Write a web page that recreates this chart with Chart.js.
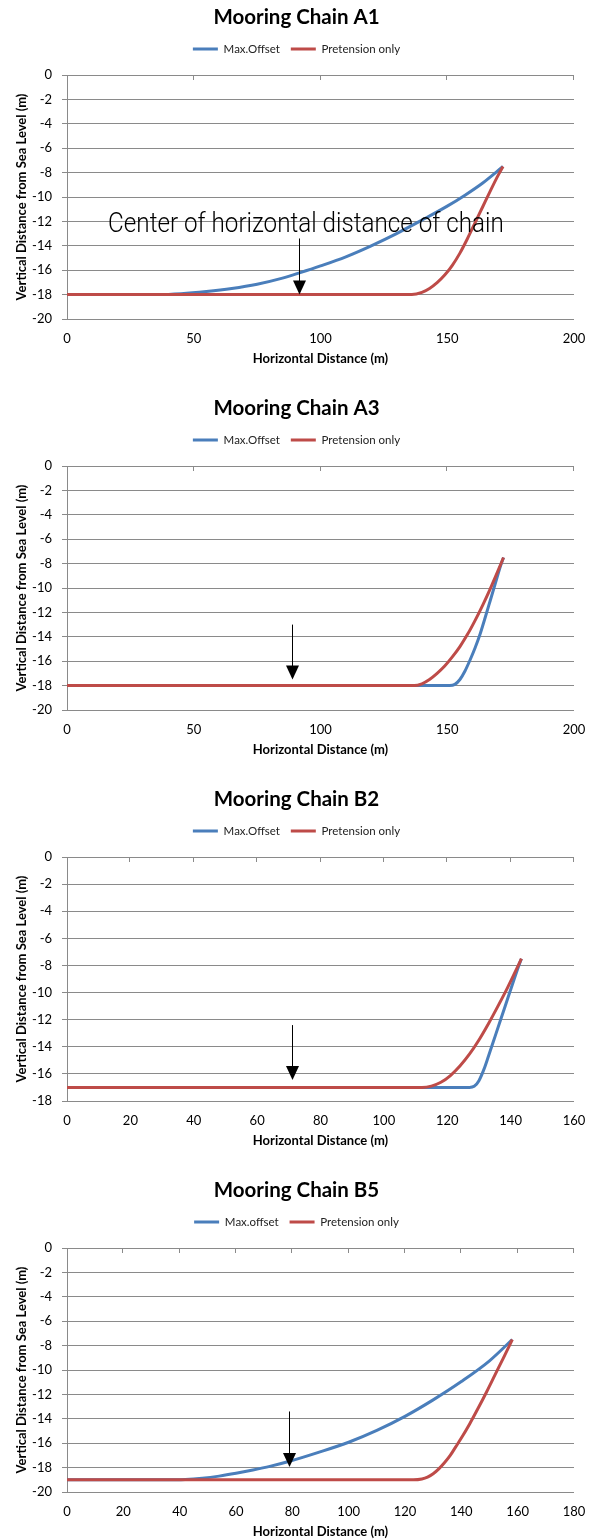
<!DOCTYPE html>
<html>
<head>
<meta charset="utf-8">
<script src="https://cdn.jsdelivr.net/npm/chart.js@4.4.1/dist/chart.umd.min.js"></script>
<style>
html, body { margin: 0; padding: 0; overflow: hidden; background: #fff; }
.box { position: absolute; left: 0; width: 593px; height: 391px; }
</style>
</head>
<body>
<div class="box" style="top:0px"><canvas id="c1" width="593" height="391"></canvas></div>
<div class="box" style="top:391px"><canvas id="c2" width="593" height="391"></canvas></div>
<div class="box" style="top:782px"><canvas id="c3" width="593" height="391"></canvas></div>
<div class="box" style="top:1173px"><canvas id="c4" width="593" height="391"></canvas></div>
<script>
// chart titles and legend labels
const titles = ['Mooring Chain A1', 'Mooring Chain A3', 'Mooring Chain B2', 'Mooring Chain B5'];
const blueLabels = ['Max.Offset', 'Max.Offset', 'Max.Offset', 'Max.offset'];
const redLabel = 'Pretension only';

// axis ranges
const xMaxes = [200, 200, 160, 180];
const xSteps = [50, 50, 20, 20];
const yMins = [-20, -20, -18, -20];

// A1
const a1BlueX = [0, 36, 45, 55, 65, 75, 85, 92, 100, 110, 120, 130, 140, 150, 157, 164, 172];
const a1BlueY = [-18, -18, -17.93, -17.75, -17.5, -17.15, -16.65, -16.2, -15.65, -14.9, -14.0, -13.0, -11.9, -10.75, -9.85, -8.85, -7.5];
const a1RedX = [0, 136, 140, 143, 146, 149, 152, 155, 158, 161, 164, 167, 170, 172];
const a1RedY = [-18, -18, -17.82, -17.5, -17.02, -16.4, -15.6, -14.6, -13.4, -12.1, -10.8, -9.5, -8.25, -7.5];

// A3
const a3BlueX = [0, 151, 153, 155, 157, 159, 161, 163, 165, 167, 169, 171, 172.2];
const a3BlueY = [-18, -18, -17.9, -17.5, -16.8, -15.9, -14.9, -13.75, -12.4, -11.0, -9.6, -8.2, -7.5];
const a3RedX = [0, 137, 140, 143, 146, 149, 152, 155, 158, 161, 164, 167, 170, 172.2];
const a3RedY = [-18, -18, -17.85, -17.5, -17.0, -16.4, -15.65, -14.8, -13.8, -12.65, -11.4, -10.05, -8.6, -7.5];

// B2
const b2BlueX = [0, 127, 128.5, 130, 131.6, 133, 134.5, 137, 139.7, 142.6, 143.4];
const b2BlueY = [-17, -17, -16.92, -16.5, -15.65, -14.7, -13.65, -11.9, -10, -8, -7.5];
const b2RedX = [0, 112, 115, 118, 121, 124, 127, 130, 133, 136, 139, 142, 143.4];
const b2RedY = [-17, -17, -16.9, -16.62, -16.12, -15.42, -14.55, -13.5, -12.3, -11.0, -9.65, -8.2, -7.5];

// B5
const b5BlueX = [0, 35, 42, 48, 54, 60, 66, 72, 79, 89, 100, 110, 120, 130, 140, 150, 158.1];
const b5BlueY = [-19, -19, -18.97, -18.87, -18.7, -18.47, -18.2, -17.9, -17.48, -16.77, -15.92, -14.95, -13.8, -12.45, -10.95, -9.25, -7.5];
const b5RedX = [0, 123, 126, 128, 130, 132, 134, 136, 138, 140, 143, 146, 149, 152, 155, 158.1];
const b5RedY = [-19, -19, -18.93, -18.78, -18.5, -18.1, -17.6, -17.02, -16.3, -15.58, -14.4, -13.12, -11.78, -10.38, -8.98, -7.5];

// arrows marking the centre of the chain (x, start y, tip y)
const arrowX = [91.6, 88.7, 70.9, 78.9];
const arrowFrom = [-13.4, -13, -12.4, -13.4];
const arrowTo = [-18, -17.5, -16.45, -17.95];

// note on the first chart
const noteText = 'Center of horizontal distance of chain';
const noteFromX = 16.2, noteToX = 172.3, noteY = -12.3;

const blueX = [a1BlueX, a3BlueX, b2BlueX, b5BlueX];
const blueY = [a1BlueY, a3BlueY, b2BlueY, b5BlueY];
const redX = [a1RedX, a3RedX, b2RedX, b5RedX];
const redY = [a1RedY, a3RedY, b2RedY, b5RedY];

function pts(xs, ys) {
    return xs.map((v, i) => ({ x: v, y: ys[i] }));
}

const GRID = '#8a8a8a';
const FONT = 'Lato';

// top tick marks, arrow, note
const marksPlugin = {
    id: 'marks',
    afterDraw(chart, args, opts) {
        const ctx = chart.ctx;
        const x = chart.scales.x, y = chart.scales.y;
        const top = chart.chartArea.top;
        ctx.save();
        ctx.strokeStyle = GRID;
        ctx.lineWidth = 1;
        x.ticks.forEach(t => {
            if (t.value === 0) return;
            const px = Math.round(x.getPixelForValue(t.value)) - 0.5;
            ctx.beginPath();
            ctx.moveTo(px, top);
            ctx.lineTo(px, top + 5);
            ctx.stroke();
        });

        if (opts.arrow) {
            const ax = Math.round(x.getPixelForValue(opts.arrow.x)) + 0.5;
            const y0 = y.getPixelForValue(opts.arrow.from);
            const y1 = y.getPixelForValue(opts.arrow.to);
            ctx.strokeStyle = '#000';
            ctx.fillStyle = '#000';
            ctx.beginPath();
            ctx.moveTo(ax, y0);
            ctx.lineTo(ax, y1 - 12);
            ctx.stroke();
            ctx.beginPath();
            ctx.moveTo(ax - 6.5, y1 - 14);
            ctx.lineTo(ax + 6.5, y1 - 14);
            ctx.lineTo(ax, y1);
            ctx.closePath();
            ctx.fill();
        }

        if (opts.note) {
            const left = x.getPixelForValue(opts.note.from);
            const right = x.getPixelForValue(opts.note.to);
            const cy = y.getPixelForValue(opts.note.y);
            ctx.font = '300 27px Roboto';
            ctx.fillStyle = '#000';
            ctx.textBaseline = 'middle';
            const w = ctx.measureText(opts.note.text).width;
            ctx.translate(left, cy);
            ctx.scale((right - left) / w, 1);
            ctx.fillText(opts.note.text, 0, 0);
        }
        ctx.restore();
    }
};

function makeChart(i) {
    const marks = {
        arrow: { x: arrowX[i], from: arrowFrom[i], to: arrowTo[i] },
        note: i === 0 ? { text: noteText, from: noteFromX, to: noteToX, y: noteY } : null
    };
    const canvas = document.getElementById('c' + (i + 1));
    return new Chart(canvas, {
        type: 'line',
        data: {
            datasets: [
                {
                    label: blueLabels[i],
                    data: pts(blueX[i], blueY[i]),
                    borderColor: '#4a7ebb',
                    backgroundColor: '#4a7ebb',
                    borderWidth: 3,
                    pointRadius: 0,
                    cubicInterpolationMode: 'monotone',
                    order: 1
                },
                {
                    label: redLabel,
                    data: pts(redX[i], redY[i]),
                    borderColor: '#be4b48',
                    backgroundColor: '#be4b48',
                    borderWidth: 3,
                    pointRadius: 0,
                    cubicInterpolationMode: 'monotone',
                    order: 0
                }
            ]
        },
        options: {
            responsive: false,
            animation: false,
            layout: { padding: 0 },
            scales: {
                x: {
                    type: 'linear',
                    min: 0,
                    max: xMaxes[i],
                    ticks: { stepSize: xSteps[i], padding: 4, color: '#000', font: { family: FONT, size: 13 } },
                    grid: { display: false },
                    border: { display: false },
                    title: {
                        display: true,
                        text: 'Horizontal Distance (m)',
                        color: '#000',
                        font: { family: FONT, size: 13, weight: 'bold' },
                        padding: { top: 0, bottom: 24.2 }
                    },
                    afterFit: s => { s.height = 72; }
                },
                xTop: {
                    type: 'linear',
                    position: 'top',
                    min: 0,
                    max: xMaxes[i],
                    ticks: { display: false },
                    grid: { display: false },
                    border: { display: false },
                    afterFit: s => { s.height = 10.25; }
                },
                y: {
                    type: 'linear',
                    min: yMins[i],
                    max: 0,
                    ticks: { stepSize: 2, padding: 10, color: '#000', font: { family: FONT, size: 13 } },
                    grid: { color: GRID, lineWidth: 1, drawTicks: true, tickLength: 5, tickColor: GRID },
                    border: { display: true, color: GRID },
                    title: {
                        display: true,
                        text: 'Vertical Distance from Sea Level (m)',
                        color: '#000',
                        font: { family: FONT, size: 13, weight: 'bold' },
                        padding: { top: 13.9, bottom: 0 }
                    },
                    afterFit: s => { s.width = 67; }
                },
                yRight: {
                    type: 'linear',
                    position: 'right',
                    min: yMins[i],
                    max: 0,
                    ticks: { display: false },
                    grid: { display: false },
                    border: { display: false },
                    afterFit: s => { s.width = 19; }
                }
            },
            plugins: {
                title: {
                    display: true,
                    text: titles[i],
                    color: '#000',
                    font: { family: FONT, size: 20.5, weight: 'bold' },
                    padding: { top: 4.7, bottom: 3.1 }
                },
                legend: {
                    display: true,
                    labels: {
                        boxWidth: 25,
                        boxHeight: 3,
                        padding: 10.85,
                        color: '#222',
                        font: { family: FONT, size: 11.5 },
                        sort: (a, b) => a.datasetIndex - b.datasetIndex,
                        generateLabels: chart => Chart.defaults.plugins.legend.labels.generateLabels(chart)
                            .map(l => Object.assign(l, { lineWidth: 0, fillStyle: l.strokeStyle }))
                    }
                },
                tooltip: { enabled: false },
                marks: marks
            }
        },
        plugins: [marksPlugin]
    });
}

for (let i = 0; i < 4; i++) {
    makeChart(i);
}
</script>
</body>
</html>
